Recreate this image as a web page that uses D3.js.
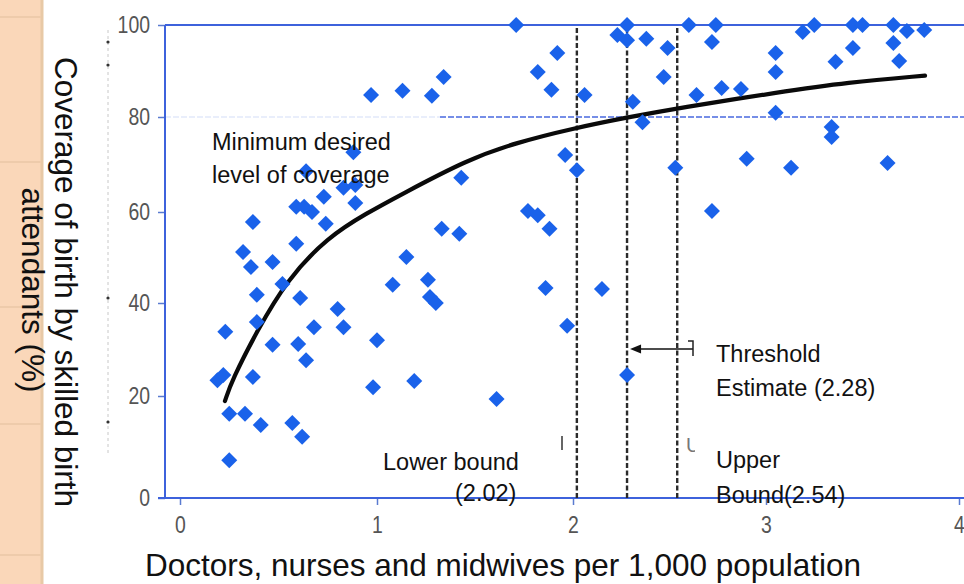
<!DOCTYPE html>
<html><head><meta charset="utf-8">
<script src="https://cdn.jsdelivr.net/npm/d3@7"></script>
<style>body{margin:0;background:#fff}svg{display:block;font-family:"Liberation Sans",Arial,sans-serif}</style>
</head><body><svg id="c" width="964" height="584"></svg>
<script>
// ---- data ----
const xTicks = [0, 1, 2, 3, 4];
const yTicks = [0, 20, 40, 60, 80, 100];
const pointsX = [0.19,0.22,0.37,0.23,0.25,0.33,0.41,0.57,0.62,0.25,0.98,0.37,0.32,0.36,0.47,0.59,0.52,0.39,0.61,0.39,
  0.47,0.60,0.64,0.68,0.80,0.83,1.00,1.08,1.15,0.59,0.63,0.67,0.73,0.74,0.83,0.89,0.89,0.64,0.88,0.97,
  1.13,1.28,1.34,1.43,1.33,1.42,1.26,1.27,1.30,1.19,1.61,1.71,1.82,1.89,1.92,1.96,2.02,2.06,1.77,1.82,
  1.88,1.86,2.15,1.97,2.28,2.23,2.28,2.28,2.38,2.31,2.36,2.49,2.47,2.60,2.53,2.64,2.74,2.72,2.77,2.87,
  3.05,3.05,3.05,2.90,3.13,3.19,3.25,3.36,3.34,3.34,3.45,3.50,3.45,3.66,3.73,3.82,3.66,3.69,3.63,2.72];
const pointsY = [23.4,24.5,24.1,33.8,16.5,16.5,14.3,14.7,12.0,7.4,21.9,57.8,51.2,47.9,49.0,53.0,44.2,41.8,41.1,35.9,
  31.0,31.2,27.7,34.8,38.7,34.8,32.0,44.0,50.1,61.1,61.1,60.0,63.2,57.4,65.1,65.7,61.9,68.6,72.6,84.8,
  85.7,84.6,88.7,67.2,56.3,55.2,45.1,41.3,40.0,23.2,19.4,100,89.8,85.9,93.9,72.0,68.8,84.8,60.2,59.3,
  56.3,43.3,43.1,35.1,24.5,97.8,100,96.7,97.0,83.3,78.9,95.0,88.7,100,69.3,84.8,100,96.3,86.3,86.1,
  93.9,89.8,80.9,71.2,69.3,98.5,100,92.0,77.9,75.8,100,100,95.0,100,98.7,98.9,96.1,92.2,70.3,60.2];
const fitX = [0.228,0.264,0.391,0.543,0.75,0.95,1.12,1.46,1.71,2.0,2.28,2.55,3.07,3.42,3.824];
const fitY = [19.0,23.4,34.0,45.1,54.5,59.8,63.6,71.0,74.6,77.6,79.9,82.0,85.4,87.5,89.0];
const bounds = [2.02, 2.28, 2.54];
const minCoverage = 80;
const yTitle = ["Coverage of birth by skilled birth", "attendants (%)"];
const xTitle = "Doctors, nurses and midwives per 1,000 population";

// ---- scales ----
const svg = d3.select("#c");
const x = d3.scaleLinear().domain(xTicks).range([180, 377, 573, 766, 959]);
const y = d3.scaleLinear().domain(yTicks).range([498, 396, 303, 212, 117, 25]);
const blue = "#3d62dc";

// left decorative strip
svg.append("rect").attr("x",0).attr("y",0).attr("width",43).attr("height",584).attr("fill","#fad7b9");
svg.append("line").attr("x1",42).attr("x2",42).attr("y1",0).attr("y2",584).attr("stroke","#e8c9a6").attr("stroke-width",3);
[17,162,307,424,555].forEach(v=>svg.append("line").attr("x1",0).attr("x2",41).attr("y1",v).attr("y2",v)
  .attr("stroke","#eecbab").attr("stroke-width",2));

// faint dashed line with dots left of the axis
svg.append("line").attr("x1",108).attr("x2",108).attr("y1",30).attr("y2",455)
  .attr("stroke","#c8c8c8").attr("stroke-dasharray","3,3").attr("stroke-width",1);
[42,65,298,422].forEach(v=>svg.append("circle").attr("cx",108).attr("cy",v).attr("r",1.6).attr("fill","#333"));

// axes
const yAxis = svg.append("g").attr("transform","translate(165,0)")
  .call(d3.axisLeft(y).tickValues(yTicks).tickFormat(d3.format("d")).tickSize(7).tickPadding(8));
const xAxis = svg.append("g").attr("transform","translate(0,498)")
  .call(d3.axisBottom(x).tickValues(xTicks).tickFormat(d3.format("d")).tickSize(7).tickPadding(12));
[yAxis, xAxis].forEach(g=>{
  g.select(".domain").remove();
  g.selectAll(".tick line").attr("stroke","#5a7bd0").attr("stroke-width",1.5);
  g.selectAll(".tick text").attr("fill","#555").attr("font-size",23)
    .attr("font-family","'Liberation Sans',Arial,sans-serif")
    .each(function(){ const t=d3.select(this); t.attr("textLength",10.8*t.text().length).attr("lengthAdjust","spacingAndGlyphs"); });
});
yAxis.selectAll(".tick text").attr("dy","0.34em");

// plot frame lines
svg.append("line").attr("x1",165).attr("x2",165).attr("y1",y(100)).attr("y2",y(0)).attr("stroke",blue).attr("stroke-width",2);
svg.append("line").attr("x1",165).attr("x2",964).attr("y1",y(100)).attr("y2",y(100)).attr("stroke",blue).attr("stroke-width",2);
svg.append("line").attr("x1",158).attr("x2",964).attr("y1",y(0)).attr("y2",y(0)).attr("stroke",blue).attr("stroke-width",2.2);

// minimum desired level line
svg.append("line").attr("x1",165).attr("x2",440).attr("y1",y(minCoverage)).attr("y2",y(minCoverage))
  .attr("stroke",blue).attr("stroke-opacity",0.15).attr("stroke-width",1.5).attr("stroke-dasharray","6,2");
svg.append("line").attr("x1",440).attr("x2",964).attr("y1",y(minCoverage)).attr("y2",y(minCoverage))
  .attr("stroke","#4a6ae0").attr("stroke-width",1.6).attr("stroke-dasharray","6,2");

// threshold / bounds
bounds.forEach(b=>svg.append("line").attr("x1",x(b)).attr("x2",x(b)).attr("y1",28).attr("y2",y(0))
  .attr("stroke","#2a2a2a").attr("stroke-width",2.4).attr("stroke-dasharray","5,2.5"));

// fitted curve
const fit = fitX.map((v,i)=>[v,fitY[i]]);
svg.append("path").attr("d", d3.line().x(d=>x(d[0])).y(d=>y(d[1])).curve(d3.curveBasis)(fit))
  .attr("fill","none").attr("stroke","#0a0a0a").attr("stroke-width",4.2).attr("stroke-linecap","round");

// points
const diamond = d3.symbol(d3.symbolSquare, 128)();
svg.append("g").selectAll("path").data(pointsX.map((v,i)=>[v,pointsY[i]])).join("path")
  .attr("d", diamond)
  .attr("transform", d=>`translate(${x(d[0])},${y(d[1])}) rotate(45)`)
  .attr("fill","#1a62ea");

// arrow to threshold
const ay = 349;
svg.append("line").attr("x1",693).attr("x2",638).attr("y1",ay).attr("y2",ay).attr("stroke","#111").attr("stroke-width",1.5);
svg.append("path").attr("d",`M${x(2.28)+3},${ay} L${x(2.28)+14},${ay-4.5} L${x(2.28)+14},${ay+4.5} Z`).attr("fill","#111");
svg.append("path").attr("d",`M688,341 H693 V356`).attr("fill","none").attr("stroke","#222").attr("stroke-width",1.5);

// remnants of covered labels
svg.append("line").attr("x1",562).attr("x2",562).attr("y1",436).attr("y2",450).attr("stroke","#666").attr("stroke-width",2);
svg.append("clipPath").attr("id","cu").append("rect").attr("x",680).attr("y",425).attr("width",15).attr("height",40);
svg.append("text").attr("x",686).attr("y",452).attr("font-size",20).attr("fill","#777").attr("clip-path","url(#cu)").text("U");

// annotations
const ann = svg.append("g").attr("font-size",23.5).attr("fill","#111");
const addT=(t,xx,yy)=>ann.append("text").attr("x",xx).attr("y",yy).text(t);
addT("Minimum desired",212,150);
addT("level of coverage",212,183);
addT("Threshold",716,362);
addT("Estimate (2.28)",716,396);
addT("Upper",716,468);
addT("Bound(2.54)",716,503);
addT("Lower bound",383,470);
addT("(2.02)",455,501);

// axis titles
svg.append("text").attr("x",503).attr("y",576).attr("text-anchor","middle").attr("font-size",31.5).attr("fill","#111").text(xTitle);
svg.append("text").attr("transform","translate(55,282) rotate(90)").attr("text-anchor","middle").attr("font-size",31.5).attr("fill","#111").text(yTitle[0]);
svg.append("text").attr("transform","translate(22,290) rotate(90)").attr("text-anchor","middle").attr("font-size",31.5).attr("fill","#111").text(yTitle[1]);
</script></body></html>
